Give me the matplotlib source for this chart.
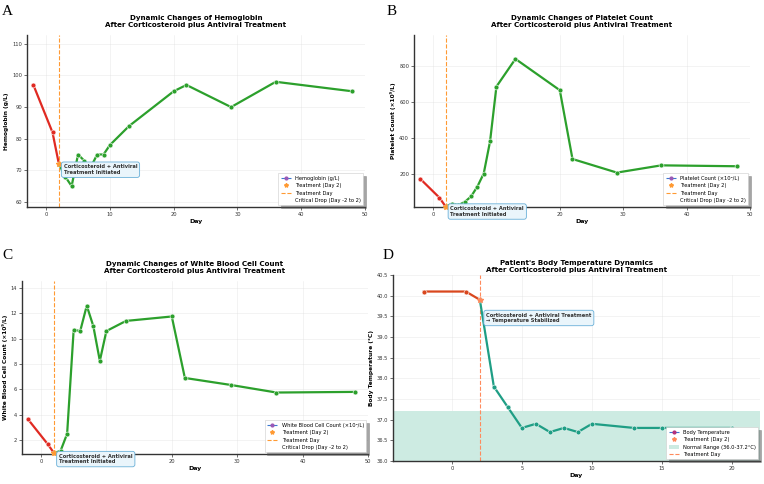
import matplotlib
matplotlib.use("Agg")
import matplotlib.pyplot as plt
from matplotlib.lines import Line2D
from matplotlib.patches import Patch

# ---------------- data ----------------
hb_days_pre = [-2, 1, 2]
hb_pre = [97, 82, 72]
hb_days_post = [2, 3, 4, 5, 6, 7, 8, 9, 10, 13, 20, 22, 29, 36, 48]
hb_post = [72, 68, 65, 75, 73, 71, 75, 75, 78, 84, 95, 97, 90, 98, 95]

plt_days_pre = [-2, 1, 2]
plt_pre = [175, 72, 22]
plt_days_post = [2, 3, 4, 5, 6, 7, 8, 9, 10, 13, 20, 22, 29, 36, 48]
plt_post = [22, 38, 30, 48, 78, 133, 205, 383, 685, 838, 665, 285, 210, 250, 245]

wbc_days_pre = [-2, 1, 2]
wbc_pre = [3.65, 1.7, 0.97]
wbc_days_post = [2, 3, 4, 5, 6, 7, 8, 9, 10, 13, 20, 22, 29, 36, 48]
wbc_post = [0.97, 1.15, 2.5, 10.7, 10.6, 12.6, 11.0, 8.25, 10.6, 11.4, 11.75, 6.9, 6.35, 5.75, 5.8]

temp_days_pre = [-2, 1, 2]
temp_pre = [40.1, 40.1, 39.9]
temp_days_post = [2, 3, 4, 5, 6, 7, 8, 9, 10, 13, 15, 20]
temp_post = [39.9, 37.8, 37.3, 36.8, 36.9, 36.7, 36.8, 36.7, 36.9, 36.8, 36.8, 36.8]

treat_day = 2
normal_range = (36.0, 37.2)

titles = [
    "Dynamic Changes of Hemoglobin\nAfter Corticosteroid plus Antiviral Treatment",
    "Dynamic Changes of Platelet Count\nAfter Corticosteroid plus Antiviral Treatment",
    "Dynamic Changes of White Blood Cell Count\nAfter Corticosteroid plus Antiviral Treatment",
    "Patient's Body Temperature Dynamics\nAfter Corticosteroid plus Antiviral Treatment",
]
ylabels = ["Hemoglobin (g/L)", "Platelet Count (×10⁹/L)",
           "White Blood Cell Count (×10⁹/L)", "Body Temperature (°C)"]
series_labels = ["Hemoglobin (g/L)", "Platelet Count (×10⁹/L)",
                 "White Blood Cell Count (×10⁹/L)", "Body Temperature"]
letters = ["A", "B", "C", "D"]

# ---------------- styling ----------------
RED = "#e02a22"
GREEN = "#2ca02c"
D_RED = "#d9471e"
D_TEAL = "#1f9e85"
ORANGE = "#ff9a33"
SALMON = "#ff8a5c"
BAND = "#cdebe2"

FS_TITLE = 5.1
FS_LABEL = 4.2
FS_XLABEL = 4.5
FS_TICK = 3.7
FS_LEG = 3.7
FS_ANN = 3.7

fig = plt.figure(figsize=(7.64, 4.84), dpi=100)
W, H = 764, 484

def ax_at(l, t, r, b):
    return fig.add_axes([l / W, 1 - b / H, (r - l) / W, (b - t) / H])

axA = ax_at(27, 35, 365, 207)
axB = ax_at(414, 35, 750, 207)
axC = ax_at(22, 281, 368, 454)
axD = ax_at(393, 275, 760, 461)

def style(ax, title, ylabel, pad):
    for s in ["top", "right"]:
        ax.spines[s].set_visible(False)
    for s in ["left", "bottom"]:
        ax.spines[s].set_linewidth(1.0)
        ax.spines[s].set_color("#333333")
    ax.grid(True, color="#dddddd", linewidth=0.4, alpha=0.6)
    ax.set_axisbelow(True)
    ax.tick_params(labelsize=FS_TICK, length=2, width=0.5, pad=1.5, colors="#333333")
    ax.set_title(title, fontsize=FS_TITLE, fontweight="bold", pad=pad, linespacing=1.15)
    ax.set_ylabel(ylabel, fontsize=FS_LABEL, fontweight="bold", labelpad=2)
    ax.set_xlabel("Day", fontsize=FS_XLABEL, fontweight="bold", labelpad=1.5)

def draw(ax, dpre, vpre, dpost, vpost, cpre, cpost, star_col):
    ax.plot(dpre, vpre, color=cpre, lw=1.6, marker="o", ms=3.5,
            mec="white", mew=0.4, zorder=3)
    ax.plot(dpost, vpost, color=cpost, lw=1.6, marker="o", ms=3.5,
            mec="white", mew=0.4, zorder=3)
    ax.plot([dpost[0]], [vpost[0]], marker="*", ms=4, color=star_col,
            ls="none", zorder=4, clip_on=False)

def annot(ax, x, y, text):
    ax.text(x, y, text, fontsize=FS_ANN, fontweight="bold", color="#333333",
            ha="left", va="center", zorder=6, clip_on=False,
            bbox=dict(boxstyle="round,pad=0.45", fc="#eaf5fb", ec="#6ab0d8", lw=0.6))

def legend(ax, label, with_band=False, line_col=ORANGE, star_col=ORANGE, mk_col="#9b59b6"):
    hs = [Line2D([], [], color="#3a78d0", ls="--", lw=0.8, marker="o", ms=2,
                 mfc=mk_col, mec=mk_col),
          Line2D([], [], color=star_col, ls="none", marker="*", ms=3)]
    labs = [label, "Treatment (Day 2)"]
    if with_band:
        hs.append(Patch(fc=BAND, ec="none"))
        labs.append("Normal Range (36.0-37.2°C)")
        hs.append(Line2D([], [], color=line_col, ls="--", lw=0.8))
        labs.append("Treatment Day")
    else:
        hs.append(Line2D([], [], color=line_col, ls="--", lw=0.8))
        labs.append("Treatment Day")
        hs.append(Patch(fc="none", ec="none"))
        labs.append("Critical Drop (Day -2 to 2)")
    lg = ax.legend(hs, labs, loc="lower right", fontsize=FS_LEG, frameon=True,
                   shadow=True, fancybox=False, borderpad=0.5, labelspacing=0.45,
                   handlelength=2.0, handletextpad=0.8, borderaxespad=0.3)
    lg.get_frame().set_linewidth(0.4)
    lg.get_frame().set_edgecolor("#cccccc")
    lg.set_zorder(10)

# ---- A ----
style(axA, titles[0], ylabels[0], 6)
axA.axvline(treat_day, color=ORANGE, ls="--", lw=0.8, zorder=2)
draw(axA, hb_days_pre, hb_pre, hb_days_post, hb_post, RED, GREEN, ORANGE)
axA.set_xlim(-3, 50)
axA.set_ylim(58.4, 112.8)
axA.set_yticks([60, 70, 80, 90, 100, 110])
annot(axA, 2.75, 70.2, "Corticosteroid + Antiviral\nTreatment Initiated")
legend(axA, series_labels[0])

# ---- B ----
style(axB, titles[1], ylabels[1], 6)
axB.axvline(treat_day, color=ORANGE, ls="--", lw=0.8, zorder=2)
draw(axB, plt_days_pre, plt_pre, plt_days_post, plt_post, RED, GREEN, ORANGE)
axB.set_xlim(-3, 50)
axB.set_ylim(20, 970)
axB.set_yticks([200, 400, 600, 800])
annot(axB, 2.75, -5, "Corticosteroid + Antiviral\nTreatment Initiated")
legend(axB, series_labels[1])

# ---- C ----
style(axC, titles[2], ylabels[2], 6)
axC.axvline(treat_day, color=ORANGE, ls="--", lw=0.8, zorder=2)
draw(axC, wbc_days_pre, wbc_pre, wbc_days_post, wbc_post, RED, GREEN, ORANGE)
axC.set_xlim(-2.9, 50)
axC.set_ylim(0.9, 14.55)
axC.set_yticks([2, 4, 6, 8, 10, 12, 14])
annot(axC, 2.75, 0.5, "Corticosteroid + Antiviral\nTreatment Initiated")
legend(axC, series_labels[2])

# ---- D ----
style(axD, titles[3], ylabels[3], 2)
axD.axhspan(normal_range[0], normal_range[1], color=BAND, lw=0, zorder=1)
axD.axvline(treat_day, color=SALMON, ls="--", lw=0.8, zorder=2)
draw(axD, temp_days_pre, temp_pre, temp_days_post, temp_post, D_RED, D_TEAL, SALMON)
axD.set_xlim(-4.2, 22)
axD.set_ylim(36.0, 40.5)
axD.set_yticks([36.0, 36.5, 37.0, 37.5, 38.0, 38.5, 39.0, 39.5, 40.0, 40.5])
axD.yaxis.set_major_formatter(matplotlib.ticker.FormatStrFormatter("%.1f"))
annot(axD, 2.45, 39.46, "Corticosteroid + Antiviral Treatment\n→ Temperature Stabilized")
legend(axD, series_labels[3], with_band=True, line_col=SALMON, star_col=SALMON,
       mk_col="#b5307a")

# panel letters
for (x, y, L) in [(2, 15, "A"), (387, 15, "B"), (2, 259, "C"), (383, 259, "D")]:
    fig.text(x / W, 1 - y / H, L, fontsize=11, family="Liberation Serif",
             ha="left", va="baseline")

fig.savefig("out.png", dpi=100)
